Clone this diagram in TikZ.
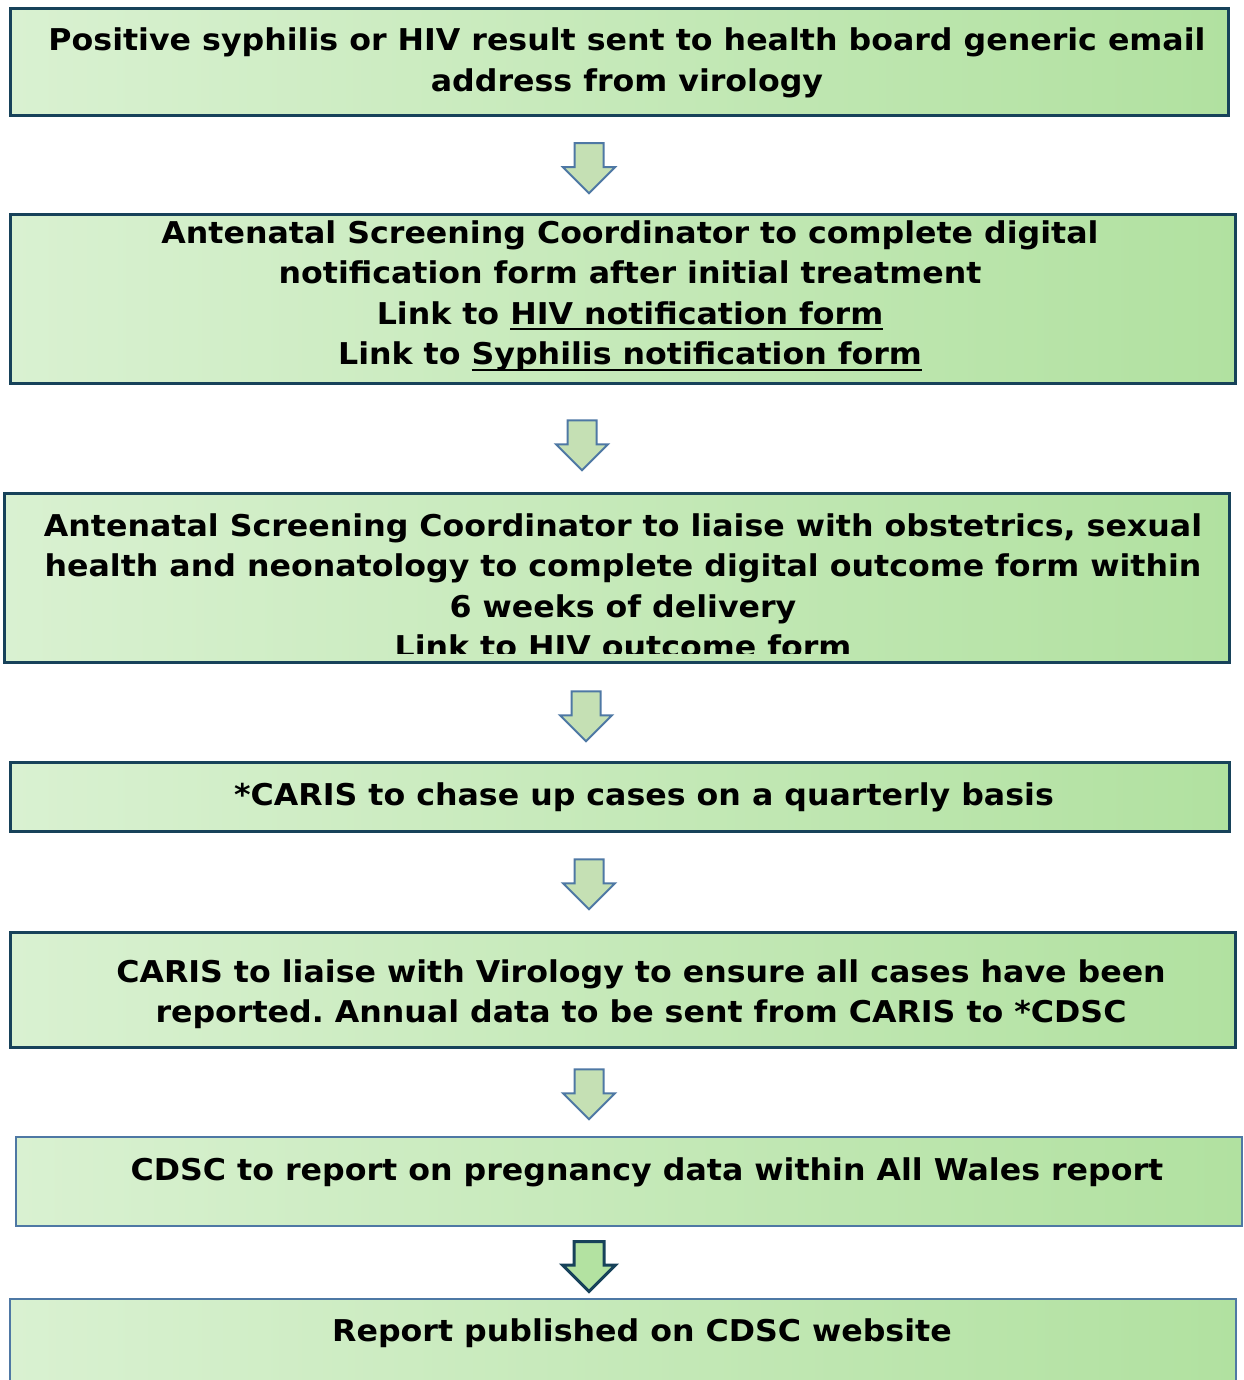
\documentclass[tikz,border=0pt]{standalone}
\usepackage{fontspec}
\setmainfont{DejaVu Sans}[FakeStretch=1.055]
\usetikzlibrary{shapes.arrows}

\newcommand{\linkline}[1]{\setbox0\hbox{#1}\rlap{\vrule height -3.6pt depth 6pt width \wd0}\box0}

\definecolor{boxleft}{HTML}{D9F1D1}
\definecolor{boxright}{HTML}{B1E1A0}
\definecolor{boxline}{HTML}{17425A}
\definecolor{paleline}{HTML}{4E78A4}
\definecolor{arrowfill}{HTML}{C5E0B4}
\definecolor{lastfill}{HTML}{B3E2A1}

\tikzset{
	stage/.style={draw=boxline, line width=3pt, left color=boxleft, right color=boxright, inner sep=0pt},
	palestage/.style={stage, draw=paleline, line width=2.5pt},
	stagetext/.style={align=center, font=\fontsize{30}{40.5}\selectfont\bfseries\frenchspacing, inner sep=0pt},
	downarrow/.style={single arrow, shape border rotate=270, draw=paleline, fill=arrowfill, line width=2pt,
		minimum height=50pt, minimum width=50pt, single arrow head extend=11.5pt, single arrow tip angle=90,
		inner xsep=13.5pt, inner ysep=0pt}
}

\begin{document}
\begin{tikzpicture}[x=1pt, y=-1pt]
	\useasboundingbox (0,0) rectangle (1243,1380);
	\node[stage, minimum width=1218pt, minimum height=107pt] (s1) at (619.5,62) {};
	\node[stage, minimum width=1225pt, minimum height=169pt] (s2) at (623,299) {};
	\node[stage, minimum width=1225pt, minimum height=169pt] (s3) at (617,578) {};
	\node[stage, minimum width=1219pt, minimum height=69pt] (s4) at (620,797) {};
	\node[stage, minimum width=1225pt, minimum height=115pt] (s5) at (623,990) {};
	\node[palestage, minimum width=1226pt, minimum height=89pt] (s6) at (629,1181.5) {};
	\node[palestage, minimum width=1226pt, minimum height=130pt] (s7) at (623,1364) {};

	\node[stagetext] (t1) at (627,63) {Positive syphilis or HIV result sent to health board generic email\\address from virology};
	\node[stagetext] (t2) at (630,296) {Antenatal Screening Coordinator to complete digital\\notification form after initial treatment\\Link to \linkline{HIV notification form}\\Link to \linkline{Syphilis notification form}};
	\begin{scope}
		\clip ([yshift=10.5pt]s3.south west) rectangle (s3.north east);
		\node[stagetext] (t3) at (623,586) {Antenatal Screening Coordinator to liaise with obstetrics, sexual\\health and neonatology to complete digital outcome form within\\6 weeks of delivery\\Link to HIV outcome form};
	\end{scope}
	\node[stagetext] (t4) at (644,797) {*CARIS to chase up cases on a quarterly basis};
	\node[stagetext] (t5) at (641,994) {CARIS to liaise with Virology to ensure all cases have been\\reported. Annual data to be sent from CARIS to *CDSC};
	\node[stagetext] (t6) at (647,1172) {CDSC to report on pregnancy data within All Wales report};
	\node[stagetext] (t7) at (642,1333) {Report published on CDSC website};

	\node[downarrow] (a1) at (589,161) {};
	\node[downarrow] (a2) at (582,438) {};
	\node[downarrow] (a3) at (586,709) {};
	\node[downarrow] (a4) at (589,877) {};
	\node[downarrow] (a5) at (589,1087) {};
	\node[downarrow, draw=boxline, fill=lastfill, line width=3pt] (a6) at (589,1259) {};
\end{tikzpicture}
\end{document}
